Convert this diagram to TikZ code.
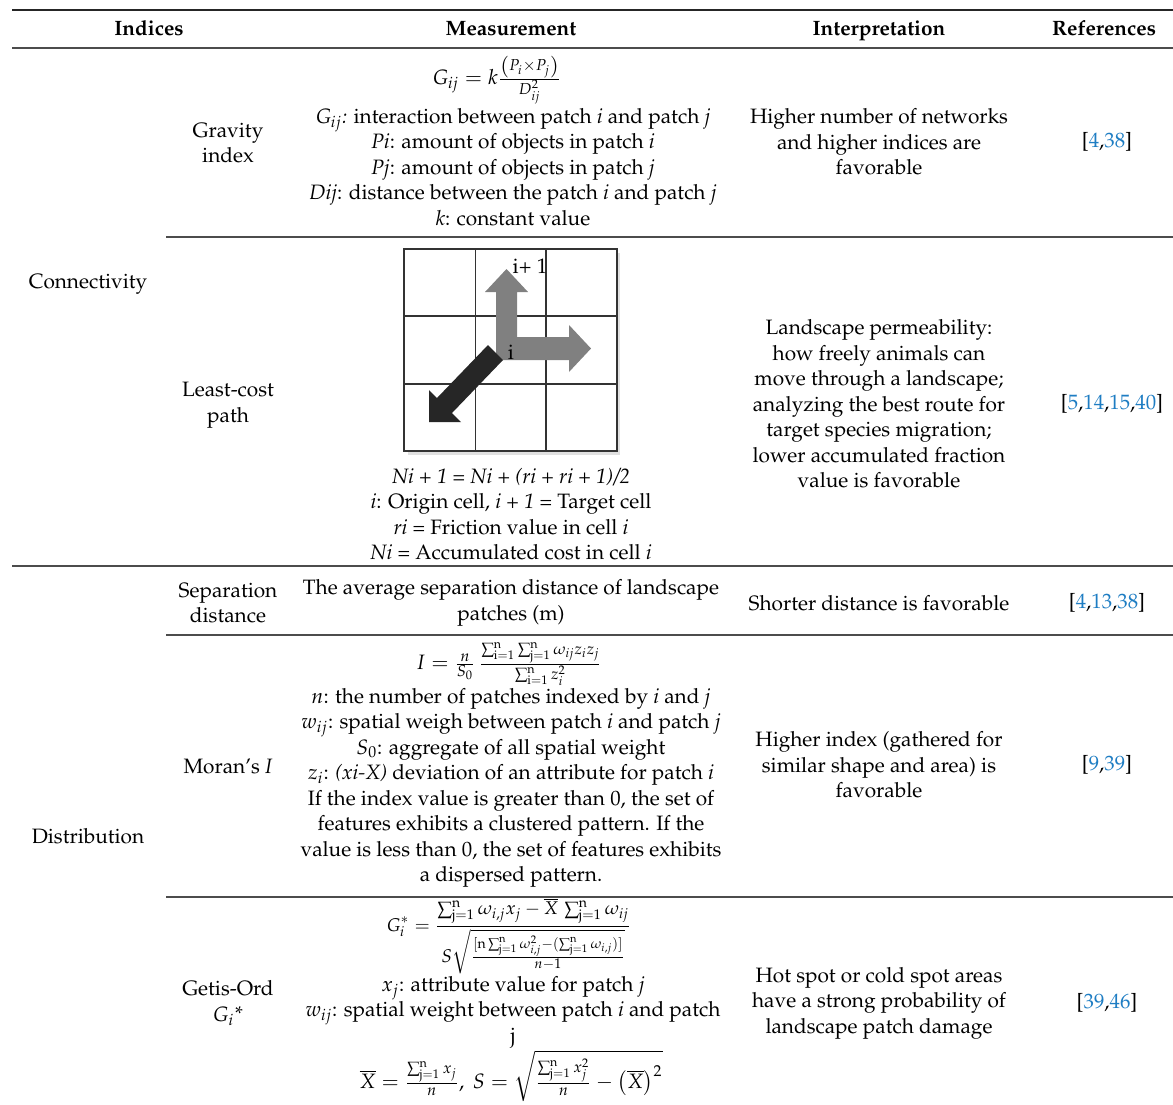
\documentclass[tikz,border=0pt]{standalone}
\usepackage[T1]{fontenc}
\usepackage{mathpazo}
\usepackage{xcolor}
\usepackage{tikz}

\definecolor{refblue}{RGB}{30,125,195}
\newcommand{\rf}[1]{\textcolor{refblue}{#1}}

\begin{document}
\begin{tikzpicture}[x=0.5pt, y=-0.5pt,
    cell/.style={align=center, inner sep=0pt, font=\fontsize{10.4}{12.75}\selectfont},
    head/.style={cell, anchor=base, font=\fontsize{10.4}{12.75}\selectfont\bfseries},
    toprule/.style={line width=1.4pt, black!85},
    midrule/.style={line width=0.9pt, black!70},
    gridline/.style={line width=0.6pt, black!80}]
    \useasboundingbox (0,0) rectangle (1173,1104);

    % Rules of the table
    \draw[toprule] (12,10) -- (1173,10);
    \draw[midrule] (12,48) -- (1173,48);
    \draw[midrule] (166,237) -- (1173,237);
    \draw[midrule] (12,566) -- (1173,566);
    \draw[midrule] (166,635) -- (1173,635);
    \draw[midrule] (166,897) -- (1173,897);

    % Header row
    \node[head] (hInd) at (149,35) {Indices};
    \node[head] (hMeas) at (511,35) {Measurement};
    \node[head] (hInt) at (879,35) {Interpretation};
    \node[head] (hRef) at (1104,35) {References};

    % Groups in the first column
    \node[cell] (conn) at (88,284) {Connectivity};
    \node[cell] (distr) at (88,836) {Distribution};

    % Gravity index
    \node[cell] (gravName) at (228,143) {Gravity\\index};
    \node[cell] (gravEq) at (497,80) {$G_{ij}=k\frac{\left(P_i\times P_j\right)}{D_{ij}^2}$};
    \node[cell] (gravText) at (513,167) {$G_{ij}$\textit{:} interaction between patch \textit{i} and patch \textit{j}\\
        \textit{Pi}: amount of objects in patch \textit{i}\\
        \textit{Pj}: amount of objects in patch \textit{j}\\
        \textit{Dij}: distance between the patch \textit{i} and patch \textit{j}\\
        \textit{k}: constant value};
    \node[cell] (gravInt) at (879,142) {Higher number of networks\\and higher indices are\\favorable};
    \node[cell] (gravRef) at (1107,142) {[\rf{4},\rf{38}]};

    % Least-cost path
    \node[cell] (lcpName) at (228,405) {Least-cost\\path};
    \fill[black!12] (408,253) rectangle (620,455);
    \fill[white] (404,249) rectangle (617,451);
    \draw[gridline] (404,249) rectangle (617,451);
    \draw[gridline] (475.5,249) -- (475.5,451) (546,249) -- (546,451)
        (404,316) -- (617,316) (404,384) -- (617,384);
    % the two grey moves and the black move
    \fill[black!50] (496,292) -- (485,292) -- (506.5,269) -- (528,292) -- (517,292)
        -- (517,337) -- (569,337) -- (569,325) -- (591,348.5) -- (569,372)
        -- (569,360) -- (496,360) -- cycle;
    \fill[black!85] (488,345) -- (437,398) -- (429,390) -- (429,422)
        -- (461,422) -- (452,413) -- (503,360) -- cycle;
    \node[cell, font=\fontsize{10.5}{12}\selectfont] (cellNext) at (530,266) {i+ 1};
    \node[cell, font=\fontsize{10.5}{12}\selectfont] (cellOrig) at (511,352) {i};
    \node[cell] (lcpText) at (511,514) {\textit{Ni + 1 = Ni + (ri + ri + 1)/2}\\
        \textit{i}: Origin cell, \textit{i + 1} = Target cell\\
        \textit{ri} = Friction value in cell \textit{i}\\
        \textit{Ni} = Accumulated cost in cell \textit{i}};
    \node[cell] (lcpInt) at (879,404) {Landscape permeability:\\how freely animals can\\
        move through a landscape;\\analyzing the best route for\\target species migration;\\
        lower accumulated fraction\\value is favorable};
    \node[cell] (lcpRef) at (1112,404) {[\rf{5},\rf{14},\rf{15},\rf{40}]};

    % Separation distance
    \node[cell] (sepName) at (228,603) {Separation\\distance};
    \node[cell] (sepText) at (511,603) {The average separation distance of landscape\\patches (m)};
    \node[cell] (sepInt) at (879,603) {Shorter distance is favorable};
    \node[cell] (sepRef) at (1107,603) {[\rf{4},\rf{13},\rf{38}]};

    % Moran's I
    \node[cell] (morName) at (228,766) {Moran's \textit{I}};
    \node[cell] (morEq) at (509,664) {$I=\frac{n}{S_0}\,\frac{\sum_{\mathrm{i}=1}^{\mathrm{n}}\sum_{\mathrm{j}=1}^{\mathrm{n}}\omega_{ij}z_iz_j}{\sum_{\mathrm{i}=1}^{\mathrm{n}}z_i^2}$};
    \node[cell] (morText) at (511,788) {$n$: the number of patches indexed by \textit{i} and \textit{j}\\
        $w_{ij}$: spatial weigh between patch \textit{i} and patch \textit{j}\\
        \textit{S$_0$}: aggregate of all spatial weight\\
        $z_i$: \textit{(xi-X)} deviation of an attribute for patch \textit{i}\\
        If the index value is greater than 0, the set of\\
        features exhibits a clustered pattern. If the\\
        value is less than 0, the set of features exhibits\\
        a dispersed pattern.};
    \node[cell] (morInt) at (879,765) {Higher index (gathered for\\similar shape and area) is\\favorable};
    \node[cell] (morRef) at (1107,765) {[\rf{9},\rf{39}]};

    % Getis-Ord Gi*
    \node[cell] (getName) at (228,1003) {Getis-Ord\\\textit{G$_i$*}};
    \node[cell, font=\fontsize{9.2}{11}\selectfont] (getEq) at (509,936) {$\displaystyle G_i^*=\frac{\textstyle\sum_{\mathrm{j}=1}^{\mathrm{n}}\omega_{i,j}x_j-\overline{X}\,\sum_{\mathrm{j}=1}^{\mathrm{n}}\omega_{ij}}{S\sqrt{\frac{[\mathrm{n}\sum_{\mathrm{j}=1}^{\mathrm{n}}\omega_{i,j}^2-(\sum_{\mathrm{j}=1}^{\mathrm{n}}\omega_{i,j})]}{n-1}}}$};
    \node[cell] (getText) at (513,1012) {$x_j$: attribute value for patch \textit{j}\\
        $w_{ij}$: spatial weight between patch \textit{i} and patch\\
        j};
    \node[cell] (getEq2) at (511,1076) {$\overline{X}=\frac{\sum_{\mathrm{j}=1}^{\mathrm{n}}x_j}{n},\ S=\sqrt{\frac{\sum_{\mathrm{j}=1}^{\mathrm{n}}x_j^2}{n}-\left(\overline{X}\right)^2}$};
    \node[cell] (getInt) at (879,1003) {Hot spot or cold spot areas\\have a strong probability of\\landscape patch damage};
    \node[cell] (getRef) at (1107,1003) {[\rf{39},\rf{46}]};
\end{tikzpicture}
\end{document}
